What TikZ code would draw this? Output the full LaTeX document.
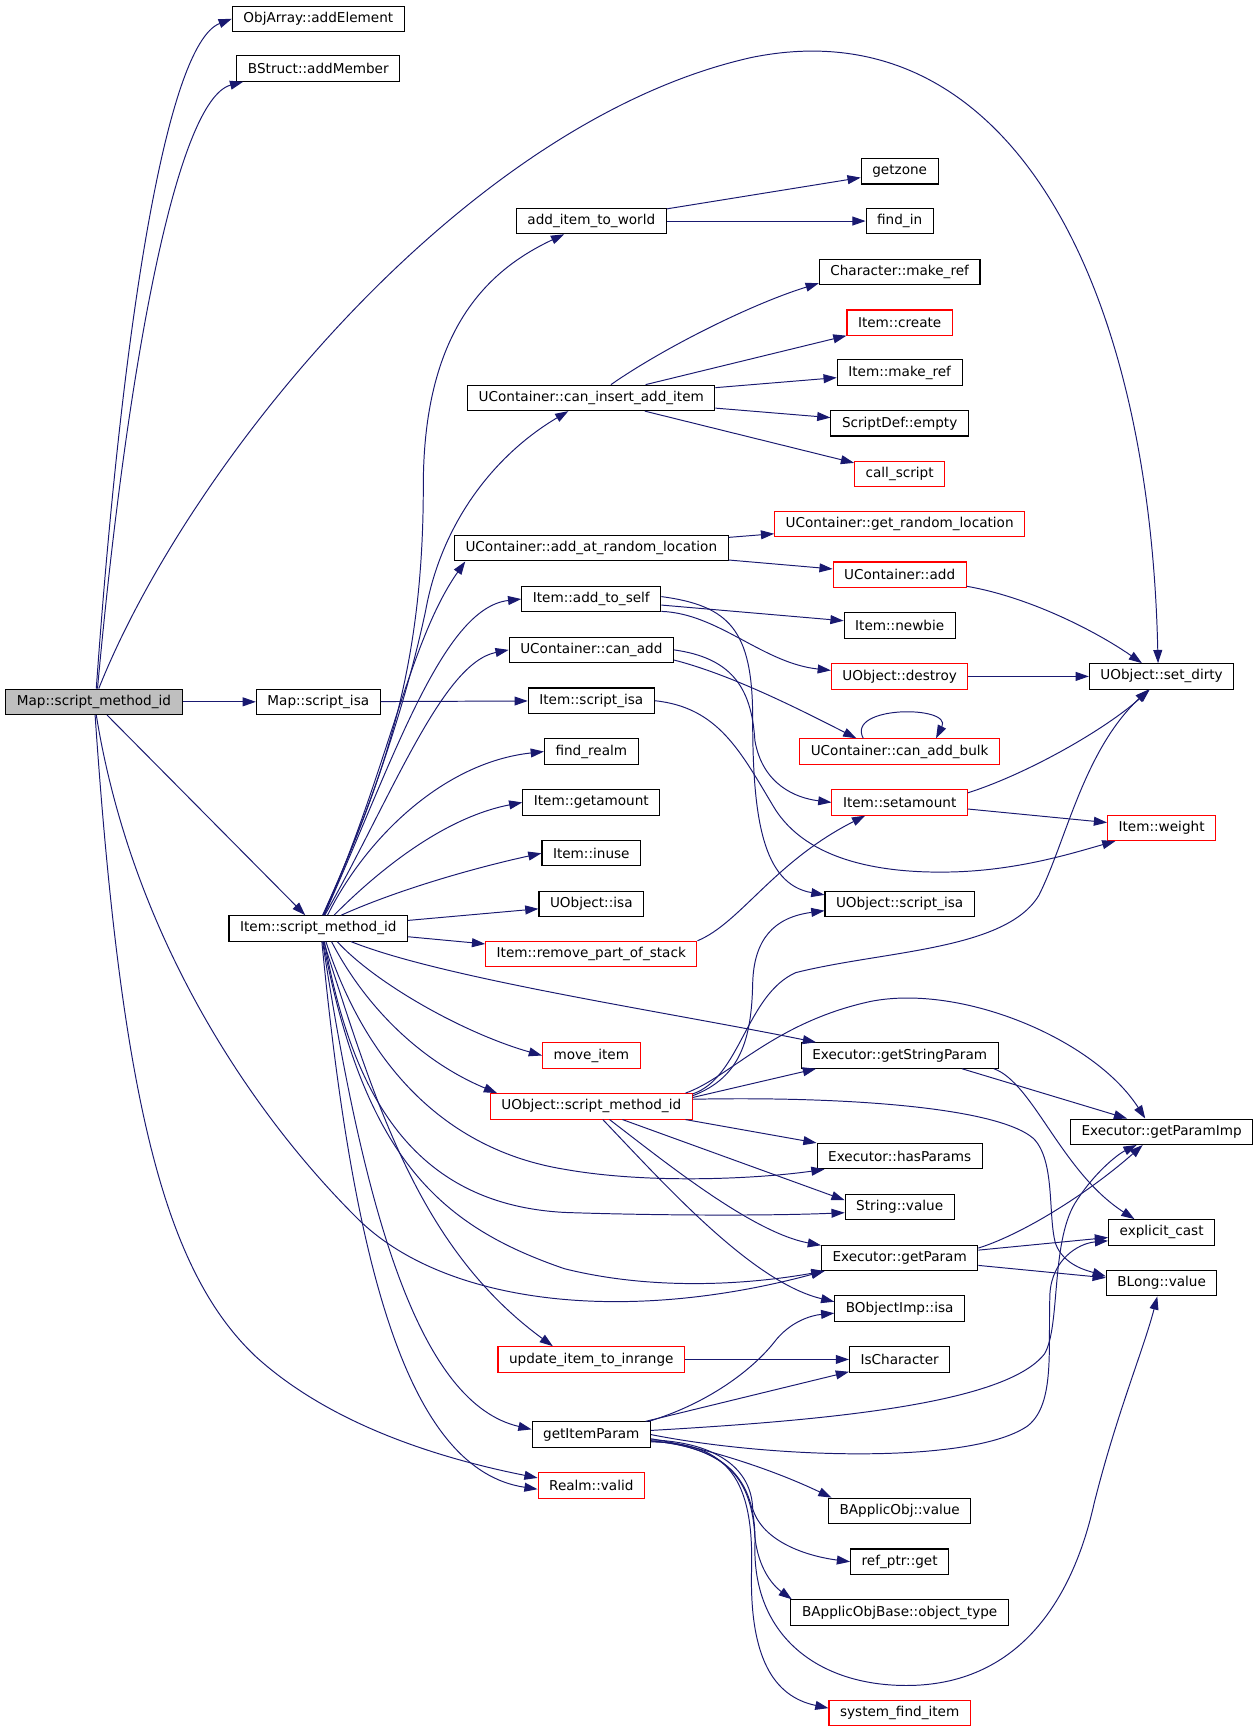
\documentclass[tikz,border=0pt]{standalone}
\usepackage{fontspec}
\setmainfont{DejaVu Sans}
\usepackage{tikz}
\usetikzlibrary{arrows.meta}
\definecolor{edgeblue}{RGB}{25,25,112}
\tikzset{
    %Define standard arrow tip
    >={Triangle[length=6.8pt,width=4.6pt]},
    %Define style for boxes
    fn/.style={
           rectangle,
           draw=black, line width=0.55pt,
           fill=white,
           inner xsep=0.2cm, inner ysep=0pt,
           minimum height=0.46cm,
           font=\fontsize{7pt}{8pt}\selectfont,
           text centered},
    fnred/.style={fn, draw=red},
    fnroot/.style={fn, fill=black!25},
    % Define arrow style
    call/.style={
           edgeblue,
           line width=0.5pt}
}
\begin{document}
\begin{tikzpicture}[->,x=0.02cm,y=-0.02cm]
\path[fill=white] (0,0) rectangle (1139,1568);
% functions
\node[fnroot](1) at (85,635) {Map::script\_method\_id};
\node[fn](2) at (288,17) {ObjArray::addElement};
\node[fn](3) at (288,62) {BStruct::addMember};
\node[fn](4) at (288,635) {Map::script\_isa};
\node[fn](5) at (288,840) {Item::script\_method\_id};
\node[fn](6) at (535,200) {add\_item\_to\_world};
\node[fn](7) at (814,155) {getzone};
\node[fn](8) at (814,200) {find\_in};
\node[fn](9) at (814,246) {Character::make\_ref};
\node[fnred](10) at (814,292) {Item::create};
\node[fn](11) at (814,337) {Item::make\_ref};
\node[fn](12) at (814,383) {ScriptDef::empty};
\node[fnred](13) at (814,429) {call\_script};
\node[fn](14) at (535,360) {UContainer::can\_insert\_add\_item};
\node[fnred](15) at (814,474) {UContainer::get\_random\_location};
\node[fn](16) at (535,496) {UContainer::add\_at\_random\_location};
\node[fnred](17) at (814,520) {UContainer::add};
\node[fn](18) at (535,542) {Item::add\_to\_self};
\node[fn](19) at (814,566) {Item::newbie};
\node[fn](20) at (535,588) {UContainer::can\_add};
\node[fnred](21) at (814,612) {UObject::destroy};
\node[fn](22) at (1051,612) {UObject::set\_dirty};
\node[fn](23) at (535,634) {Item::script\_isa};
\node[fnred](24) at (814,680) {UContainer::can\_add\_bulk};
\node[fn](25) at (535,680) {find\_realm};
\node[fn](26) at (535,726) {Item::getamount};
\node[fnred](27) at (814,726) {Item::setamount};
\node[fnred](28) at (1051,749) {Item::weight};
\node[fn](29) at (535,772) {Item::inuse};
\node[fn](30) at (535,818) {UObject::isa};
\node[fn](31) at (814,818) {UObject::script\_isa};
\node[fnred](32) at (535,863) {Item::remove\_part\_of\_stack};
\node[fnred](33) at (535,955) {move\_item};
\node[fn](34) at (814,955) {Executor::getStringParam};
\node[fnred](35) at (535,1001) {UObject::script\_method\_id};
\node[fn](36) at (1051,1024) {Executor::getParamImp};
\node[fn](37) at (814,1046) {Executor::hasParams};
\node[fn](38) at (814,1092) {String::value};
\node[fn](39) at (1051,1115) {explicit\_cast};
\node[fn](40) at (814,1138) {Executor::getParam};
\node[fn](41) at (1051,1161) {BLong::value};
\node[fn](42) at (814,1184) {BObjectImp::isa};
\node[fnred](43) at (535,1230) {update\_item\_to\_inrange};
\node[fn](44) at (814,1230) {IsCharacter};
\node[fn](45) at (535,1298) {getItemParam};
\node[fnred](46) at (535,1344) {Realm::valid};
\node[fn](47) at (814,1367) {BApplicObj::value};
\node[fn](48) at (814,1413) {ref\_ptr::get};
\node[fn](49) at (814,1459) {BApplicObjBase::object\_type};
\node[fnred](50) at (814,1550) {system\_find\_item};
% straight calls
\path[call]
	(1) edge (4)
	(1) edge (5)
	(4) edge (23)
	(5) edge (30)
	(5) edge (32)
	(6) edge (7)
	(6) edge (8)
	(14) edge (10)
	(14) edge (11)
	(14) edge (12)
	(14) edge (13)
	(16) edge (15)
	(16) edge (17)
	(18) edge (19)
	(21) edge (22)
	(27) edge (28)
	(40) edge (39)
	(40) edge (41)
	(43) edge (44)
	(45) edge (44);
% Map::script_method_id
\draw[call] (1.80) .. controls (110,300) and (150,40) .. (2.west);
\draw[call] (1.75) .. controls (115,330) and (160,90) .. (3.190);
\draw[call] (1.70) .. controls (170,420) and (420,110) .. (680,52) .. controls (910,5) and (1040,250) .. (22.105);
\draw[call] (1.280) .. controls (120,850) and (230,1010) .. (324,1103) .. controls (400,1178) and (560,1200) .. (40.190);
\draw[call] (1.275) .. controls (110,1000) and (150,1150) .. (231,1227) .. controls (300,1290) and (400,1320) .. (46.172);
% Item::script_method_id
\draw[call] (5.72) .. controls (350,700) and (383,600) .. (383,440) .. controls (383,300) and (440,245) .. (6.206);
\draw[call] (5.70) .. controls (350,700) and (375,600) .. (385,553) .. controls (400,470) and (450,410) .. (14.210);
\draw[call] (5.68) .. controls (350,700) and (370,580) .. (16.186);
\draw[call] (5.66) .. controls (355,690) and (400,550) .. (18.west);
\draw[call] (5.64) .. controls (355,720) and (400,600) .. (20.west);
\draw[call] (5.55) .. controls (330,760) and (400,690) .. (25.west);
\draw[call] (5.40) .. controls (340,790) and (400,740) .. (26.west);
\draw[call] (5.30) .. controls (360,805) and (430,785) .. (29.west);
\draw[call] (5.338) .. controls (400,885) and (600,915) .. (34.171);
\draw[call] (5.325) .. controls (340,890) and (420,935) .. (33.west);
\draw[call] (5.315) .. controls (330,910) and (380,960) .. (35.172);
\draw[call] (5.300) .. controls (330,960) and (400,1040) .. (511,1058) .. controls (590,1072) and (690,1066) .. (37.190);
\draw[call] (5.295) .. controls (320,1000) and (380,1090) .. (511,1097) .. controls (600,1100) and (700,1100) .. (38.186);
\draw[call] (5.290) .. controls (330,1050) and (400,1110) .. (511,1148) .. controls (600,1170) and (690,1160) .. (40.190);
\draw[call] (5.292) .. controls (340,1000) and (380,1130) .. (43.161);
\draw[call] (5.288) .. controls (330,1100) and (380,1270) .. (45.175);
\draw[call] (5.285) .. controls (320,1150) and (370,1330) .. (46.184);
% UContainer::can_insert_add_item, UContainer::add
\draw[call] (14.34) .. controls (600,315) and (680,275) .. (9.188);
\draw[call] (17) .. controls (930,540) and (990,570) .. (22.146);
% Item::add_to_self
\draw[call] (18.350) .. controls (650,555) and (690,600) .. (21.175);
\draw[call] (18.2) .. controls (660,548) and (681,570) .. (681,650) .. controls (681,740) and (690,800) .. (31.173);
% UContainer::can_add
\draw[call] (20.353) .. controls (660,610) and (720,640) .. (24.163);
\draw[call] (20.east) .. controls (660,595) and (680,620) .. (683,670) .. controls (690,710) and (720,722) .. (27.west);
\draw[call] (24.160) .. controls (765,638) and (862,638) .. (24.20);
% Item::script_isa
\draw[call] (23.east) .. controls (650,640) and (670,680) .. (700,730) .. controls (730,780) and (800,790) .. (858,789) .. controls (920,788) and (970,772) .. (28.196);
% Item::setamount
\draw[call] (27.8) .. controls (930,700) and (1000,660) .. (22.228);
\draw[call] (32.7) .. controls (670,835) and (700,780) .. (27.201);
% UObject::script_method_id
\draw[call] (35.6) .. controls (670,975) and (680,940) .. (681,890) .. controls (682,850) and (700,830) .. (31.185);
\draw[call] (35.7) .. controls (670,975) and (675,900) .. (720,880) .. controls (800,860) and (910,860) .. (940,810) .. controls (965,760) and (980,680) .. (22.225);
\draw[call] (35.5) -- (34.189);
\draw[call] (35.8) .. controls (660,975) and (700,925) .. (788,906) .. controls (870,890) and (990,940) .. (36.141);
\draw[call] (35.4) .. controls (750,992) and (900,1000) .. (935,1030) .. controls (955,1050) and (948,1100) .. (955,1125) .. controls (962,1145) and (985,1150) .. (41.173);
\draw[call] (35.352) -- (37.171);
\draw[call] (35.337) -- (38.173);
\draw[call] (35.324) .. controls (600,1050) and (680,1115) .. (40.171);
\draw[call] (35.311) .. controls (600,1070) and (680,1160) .. (42.174);
% Executor
\draw[call] (34.348) -- (36.159);
\draw[call] (34.352) .. controls (935,980) and (960,1060) .. (39.154);
\draw[call] (40.7) .. controls (930,1115) and (990,1075) .. (36.215);
% getItemParam
\draw[call] (45.13) .. controls (640,1270) and (680,1240) .. (700,1215) .. controls (715,1195) and (735,1190) .. (42.184);
\draw[call] (45.4) .. controls (750,1285) and (910,1270) .. (945,1225) .. controls (960,1200) and (950,1120) .. (975,1085) .. controls (990,1062) and (1010,1045) .. (36.208);
\draw[call] (45.0) .. controls (700,1320) and (880,1325) .. (930,1290) .. controls (955,1270) and (948,1220) .. (950,1170) .. controls (952,1140) and (975,1125) .. (39.189);
\draw[call] (45.356) .. controls (640,1310) and (700,1330) .. (47.169);
\draw[call] (45.355) .. controls (650,1305) and (680,1330) .. (681,1365) .. controls (690,1395) and (730,1408) .. (48.west);
\draw[call] (45.354) .. controls (660,1310) and (680,1340) .. (683,1390) .. controls (686,1420) and (700,1435) .. (49.173);
\draw[call] (45.353) .. controls (660,1305) and (682,1340) .. (680,1420) .. controls (678,1500) and (700,1535) .. (50.176);
\draw[call] (45.354) .. controls (660,1310) and (685,1340) .. (683,1400) .. controls (682,1480) and (740,1525) .. (820,1525) .. controls (920,1525) and (970,1450) .. (990,1360) .. controls (1010,1280) and (1035,1220) .. (41.252);
\end{tikzpicture}
\end{document}
